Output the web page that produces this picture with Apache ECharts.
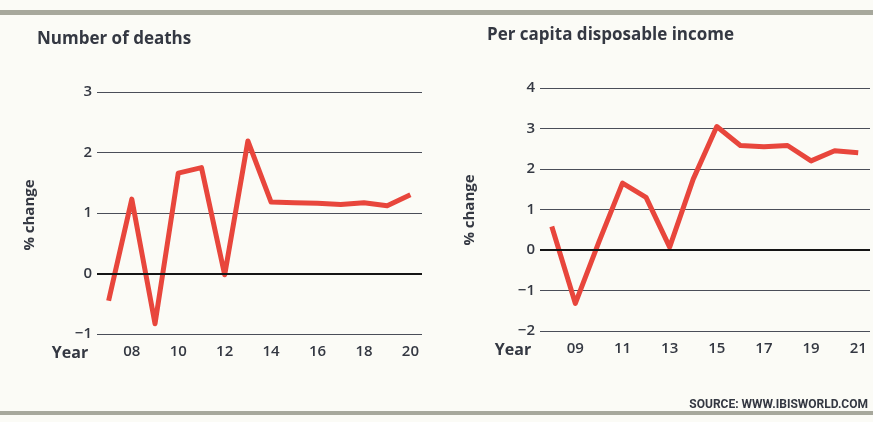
<!DOCTYPE html>
<html>
<head>
<meta charset="utf-8">
<script src="https://cdn.jsdelivr.net/npm/echarts@6/dist/echarts.min.js"></script>
<style>
  html, body { margin: 0; padding: 0; background: #fbfbf6; }
  #chart { width: 873px; height: 422px; }
</style>
</head>
<body>
<div id="chart"></div>
<script>
// Annual % change in number of deaths, 2007-2020
const deathYears = ['07','08','09','10','11','12','13','14','15','16','17','18','19','20'];
const deathChange = [-0.45, 1.23, -0.83, 1.66, 1.75, -0.02, 2.19, 1.18, 1.17, 1.16, 1.14, 1.17, 1.12, 1.3];
const deathTicks = { min: -1, max: 3, interval: 1 };

// Annual % change in per capita disposable income, 2008-2021
const incomeYears = ['08','09','10','11','12','13','14','15','16','17','18','19','20','21'];
const incomeChange = [0.58, -1.32, 0.2, 1.65, 1.3, 0.07, 1.75, 3.05, 2.58, 2.55, 2.58, 2.2, 2.45, 2.4];
const incomeTicks = { min: -2, max: 4, interval: 1 };

const titles = ['Number of deaths', 'Per capita disposable income'];
const yName = '% change';
const xName = 'Year';
const sourceText = 'SOURCE: WWW.IBISWORLD.COM';

const FONT = '"Open Sans", "Noto Sans", sans-serif';
const TEXT = '#343842';
const RED = '#e8463c';

function xAxis(gridIndex, cats) {
  return {
    type: 'category', gridIndex, data: cats, boundaryGap: true,
    axisLine: { show: false }, axisTick: { show: false },
    axisLabel: {
      interval: (i) => i % 2 === 1,
      color: TEXT, fontFamily: FONT, fontSize: 15, fontWeight: 600, margin: 10
    },
    splitLine: { show: false }
  };
}
function yAxis(gridIndex, t) {
  return {
    type: 'value', gridIndex, min: t.min, max: t.max, interval: t.interval,
    axisLine: { show: false }, axisTick: { show: false },
    axisLabel: {
      color: TEXT, fontFamily: FONT, fontSize: 15, fontWeight: 600, margin: 5,
      formatter: (v) => (v < 0 ? '\u2212' + Math.abs(v) : String(v))
    },
    splitLine: { show: true, lineStyle: { color: '#4a4e58', width: 1 } }
  };
}
function lineSeries(idx, data) {
  return {
    type: 'line', xAxisIndex: idx, yAxisIndex: idx, data,
    symbol: 'none', smooth: false,
    lineStyle: { color: RED, width: 5, join: 'round', cap: 'butt' },
    markLine: {
      silent: true, symbol: 'none', label: { show: false },
      lineStyle: { color: '#151515', width: 2, type: 'solid' },
      data: [{ yAxis: 0 }]
    },
    z: 3
  };
}

const chart = echarts.init(document.getElementById('chart'), null, { renderer: 'canvas' });
chart.setOption({
  backgroundColor: '#fbfbf6',
  animation: false,
  grid: [
    { left: 97, right: 873 - 422, top: 92, height: 242 },
    { left: 540, right: 3, top: 88, height: 243 }
  ],
  xAxis: [xAxis(0, deathYears), xAxis(1, incomeYears)],
  yAxis: [yAxis(0, deathTicks), yAxis(1, incomeTicks)],
  series: [lineSeries(0, deathChange), lineSeries(1, incomeChange)],
  graphic: [
    // top and bottom frame bands
    { type: 'rect', shape: { x: 0, y: 10, width: 873, height: 5 }, style: { fill: '#a7a89c' } },
    { type: 'rect', shape: { x: 0, y: 411, width: 873, height: 4 }, style: { fill: '#a7a89c' } },
    { type: 'text', left: 37, top: 31, style: { text: titles[0], font: `bold 17px ${FONT}`, fill: TEXT } },
    { type: 'text', left: 487, top: 27, style: { text: titles[1], font: `bold 17px ${FONT}`, fill: TEXT } },
    { type: 'text', x: 30, y: 215, rotation: Math.PI / 2, style: { text: yName, font: `bold 15px ${FONT}`, fill: TEXT, align: 'center', verticalAlign: 'middle' } },
    { type: 'text', x: 470, y: 210, rotation: Math.PI / 2, style: { text: yName, font: `bold 15px ${FONT}`, fill: TEXT, align: 'center', verticalAlign: 'middle' } },
    { type: 'text', x: 70, y: 353, style: { text: xName, font: `bold 16px ${FONT}`, fill: TEXT, align: 'center', verticalAlign: 'middle' } },
    { type: 'text', x: 513, y: 350, style: { text: xName, font: `bold 16px ${FONT}`, fill: TEXT, align: 'center', verticalAlign: 'middle' } },
    { type: 'text', x: 868, y: 405, style: { text: sourceText, font: `bold 12px "Liberation Sans Narrow", "Roboto", sans-serif`, fill: TEXT, align: 'right', verticalAlign: 'middle' } }
  ]
});
</script>
</body>
</html>
